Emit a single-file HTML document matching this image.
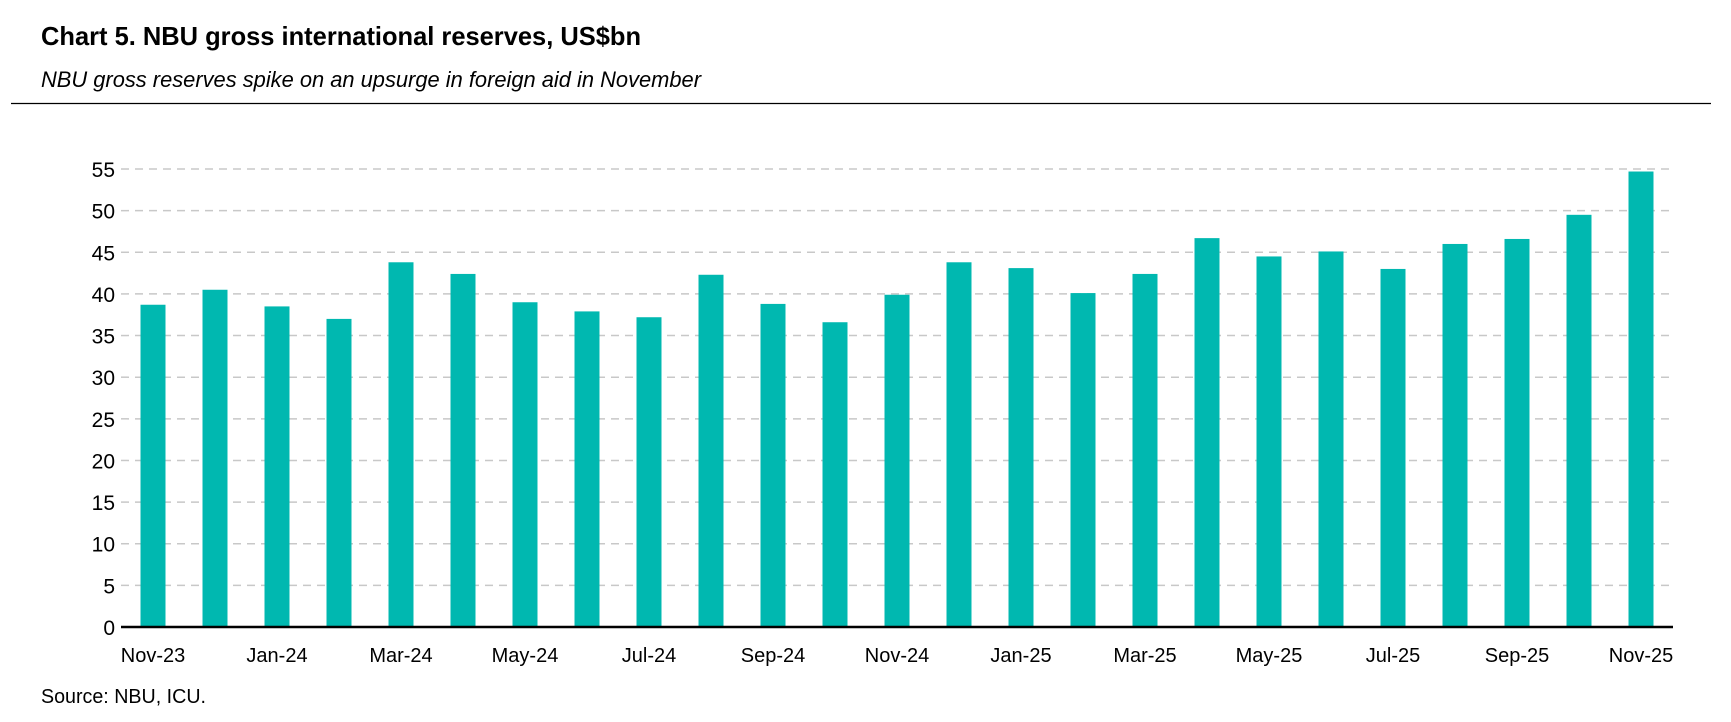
<!DOCTYPE html>
<html><head><meta charset="utf-8"><style>html,body{margin:0;padding:0;background:#fff;}svg{display:block;}</style></head>
<body>
<svg width="1731" height="722" viewBox="0 0 1731 722" xmlns="http://www.w3.org/2000/svg" font-family="'Liberation Sans Narrow','Liberation Sans',sans-serif">
<text x="41" y="45" font-size="26" font-weight="bold" fill="#000" textLength="600" lengthAdjust="spacingAndGlyphs">Chart 5. NBU gross international reserves, US$bn</text>
<text x="41" y="87" font-size="22" font-style="italic" fill="#000" textLength="660" lengthAdjust="spacingAndGlyphs">NBU gross reserves spike on an upsurge in foreign aid in November</text>
<line x1="11" y1="103.5" x2="1711" y2="103.5" stroke="#000" stroke-width="1.3"/>
<g id="grid" stroke="#c8c8c8" stroke-width="1.5" stroke-dasharray="8,6"></g>
<g id="ylab" font-size="21" fill="#000" text-anchor="end"></g>
<g id="bars" fill="#00b8b0"></g>
<line x1="121" y1="627" x2="1673" y2="627" stroke="#000" stroke-width="2.5"/>
<g id="xlab" font-size="20" fill="#000" text-anchor="middle"></g>
<text x="41" y="703" font-size="20" fill="#000" textLength="165" lengthAdjust="spacingAndGlyphs">Source: NBU, ICU.</text>
</svg>
<script>
var ns="http://www.w3.org/2000/svg";
function el(t,a,p,txt){var e=document.createElementNS(ns,t);for(var k in a)e.setAttribute(k,a[k]);if(txt!=null)e.textContent=txt;document.getElementById(p).appendChild(e);}
var y0=627,pu=8.327;
for(var v=5;v<=55;v+=5){var y=y0-v*pu;el('line',{x1:121,y1:y,x2:1673,y2:y},'grid');}
for(var v=0;v<=55;v+=5){var y=y0-v*pu;el('text',{x:115,y:y+8},'ylab',''+v);}
var vals=[38.7,40.5,38.5,37.0,43.8,42.4,39.0,37.9,37.2,42.3,38.8,36.6,39.9,43.8,43.1,40.1,42.4,46.7,44.5,45.1,43.0,46.0,46.6,49.5,54.7];
var labs=["Nov-23","Jan-24","Mar-24","May-24","Jul-24","Sep-24","Nov-24","Jan-25","Mar-25","May-25","Jul-25","Sep-25","Nov-25"];
for(var i=0;i<vals.length;i++){var cx=153+i*62;var h=vals[i]*pu;el('rect',{x:cx-12.5,y:y0-h,width:25,height:h},'bars');
if(i%2==0)el('text',{x:cx,y:662},'xlab',labs[i/2]);}
</script>
</body></html>
